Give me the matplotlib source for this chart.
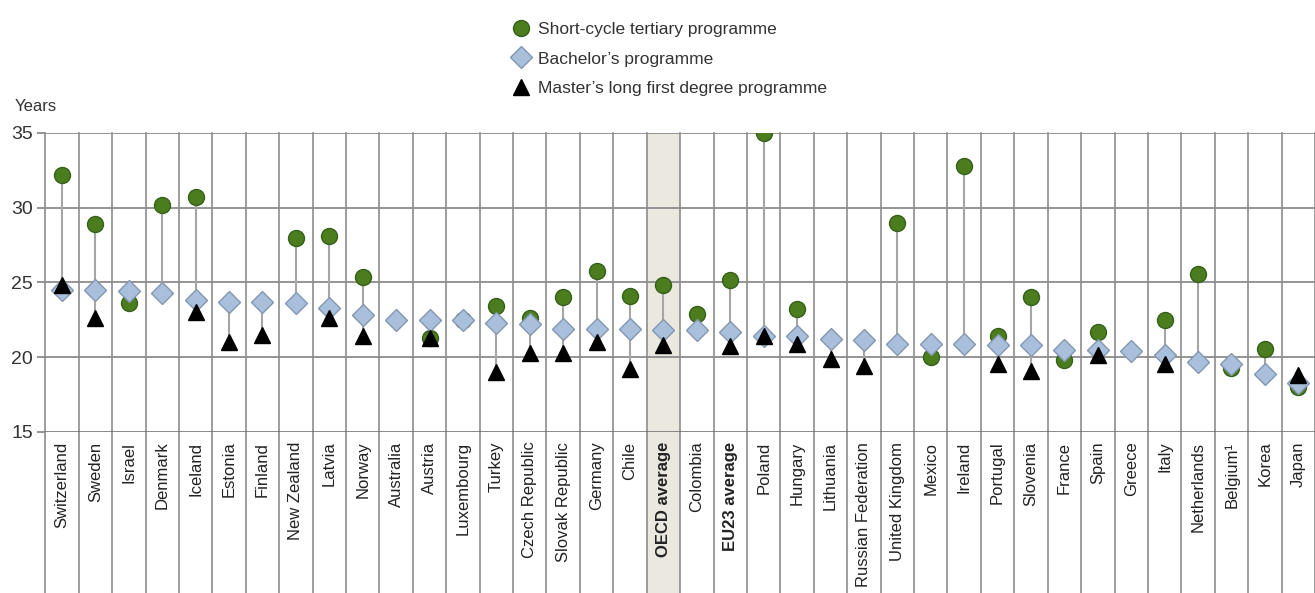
"""
Age of first-time graduates by tertiary level, OECD-style dot chart.
"""

import numpy as np
import matplotlib
matplotlib.use("Agg")
import matplotlib.pyplot as plt
from matplotlib.lines import Line2D

plt.rcParams["font.family"] = ["Liberation Sans", "DejaVu Sans"]

# ----------------------------------------------------------------------
# Data
# ----------------------------------------------------------------------
countries = [
    "Switzerland", "Sweden", "Israel", "Denmark", "Iceland", "Estonia",
    "Finland", "New Zealand", "Latvia", "Norway", "Australia", "Austria",
    "Luxembourg", "Turkey", "Czech Republic", "Slovak Republic", "Germany",
    "Chile", "OECD average", "Colombia", "EU23 average", "Poland", "Hungary",
    "Lithuania", "Russian Federation", "United Kingdom", "Mexico", "Ireland",
    "Portugal", "Slovenia", "France", "Spain", "Greece", "Italy",
    "Netherlands", "Belgium\u00b9", "Korea", "Japan",
]
nan = np.nan
short_cycle = [
    32.2, 28.9, 23.6, 30.2, 30.7, nan, nan, 28.0, 28.1, 25.4, nan, 21.3,
    22.5, 23.4, 22.65, 24.0, 25.8, 24.1, 24.8, 22.9, 25.2, 35.0, 23.2,
    nan, nan, 29.0, 20.0, 32.8, 21.4, 24.0, 19.8, 21.7, nan, 22.5,
    25.55, 19.3, 20.55, 18.0,
]
bachelor = [
    24.5, 24.5, 24.4, 24.3, 23.8, 23.7, 23.7, 23.65, 23.3, 22.8, 22.5, 22.5,
    22.5, 22.3, 22.2, 21.9, 21.9, 21.9, 21.8, 21.8, 21.7, 21.4, 21.4,
    21.25, 21.15, 20.9, 20.9, 20.9, 20.8, 20.8, 20.5, 20.5, 20.4, 20.15,
    19.7, 19.55, 18.9, 18.25,
]
master = [
    24.8, 22.65, nan, nan, 23.0, 21.0, 21.5, nan, 22.6, 21.4, nan, 21.3,
    nan, 19.0, 20.3, 20.3, 21.0, 19.2, 20.8, nan, 20.75, 21.4, 20.9,
    19.9, 19.4, nan, nan, nan, 19.55, 19.1, nan, 20.15, nan, 19.55,
    nan, nan, nan, 18.8,
]
highlight = ["OECD average", "EU23 average"]
yticks = [15, 20, 25, 30, 35]

GREEN = "#4b7d1e"
BLUE = "#a9c0dc"
GRID = "#8c8c8c"
TEXT = "#222222"


def main():
    W, H = 1315, 593
    fig = plt.figure(figsize=(W / 100, H / 100), dpi=100)
    left, right, top, bottom = 45.3, 1315, 133, 432
    ax = fig.add_axes([left / W, 1 - bottom / H, (right - left) / W, (bottom - top) / H])

    x = np.arange(len(countries))
    sc = np.array(short_cycle)
    ba = np.array(bachelor)
    ma = np.array(master)
    stack = np.vstack([sc, ba, ma])
    lo = np.nanmin(stack, axis=0)
    hi = np.nanmax(stack, axis=0)

    ax.set_xlim(-0.5, len(countries) - 0.5)
    ax.set_ylim(15, 35)
    below = -(H - bottom) / (bottom - top)

    # shaded OECD average column, running down into the label area
    i_oecd = countries.index("OECD average")
    ax.axvspan(i_oecd - 0.5, i_oecd + 0.5, ymin=below, ymax=1, clip_on=False,
               facecolor="#ebe8df", edgecolor="none", zorder=0)

    # column separators
    for b in np.arange(-0.5, len(countries), 1.0):
        ax.axvline(b, ymin=below, ymax=1, clip_on=False, color=GRID, lw=1.2, zorder=1)

    # horizontal grid
    for yv in yticks:
        ax.axhline(yv, color=GRID if yv != 15 else "#666666", lw=1.3 if yv != 15 else 1.8,
                   zorder=1)

    # min-max connectors
    ax.vlines(x, lo, hi, color="#a5a5a5", lw=1.5, zorder=2)

    ax.plot(x, sc, "o", ms=11.5, mfc=GREEN, mec="#35601a", mew=1, ls="none", zorder=3)
    ax.plot(x, ba, "D", ms=11.5, mfc=BLUE, mec="#8496b0", mew=1, ls="none", zorder=4)
    ax.plot(x, ma, "^", ms=11, mfc="black", mec="black", ls="none", zorder=5)

    for s in ax.spines.values():
        s.set_visible(False)

    ax.set_yticks(yticks)
    ax.tick_params(axis="y", length=6, width=1.3, color=GRID, pad=3,
                   labelsize=14, labelcolor="#333333")
    ax.set_xticks(x)
    ax.set_xticklabels(countries, rotation=90, va="top", ha="center")
    ax.tick_params(axis="x", length=0, pad=7, labelsize=12, labelcolor=TEXT)
    for lab in ax.get_xticklabels():
        if lab.get_text() in highlight:
            lab.set_fontweight("bold")

    fig.text(15 / W, 1 - 107 / H, "Years", fontsize=12, color="#333333",
             ha="left", va="center")

    handles = [
        Line2D([], [], marker="o", ms=11.5, mfc=GREEN, mec="#35601a", ls="none"),
        Line2D([], [], marker="D", ms=11.5, mfc=BLUE, mec="#8496b0", ls="none"),
        Line2D([], [], marker="^", ms=11, mfc="black", mec="black", ls="none"),
    ]
    labels = ["Short-cycle tertiary programme", "Bachelor\u2019s programme",
              "Master\u2019s long first degree programme"]
    fig.legend(handles, labels, loc="upper left", bbox_to_anchor=(514 / W, 1 - 22 / H),
               frameon=False, fontsize=12.5, handlelength=0.8, handletextpad=0.6,
               labelspacing=0.82, borderaxespad=0, borderpad=0,
               labelcolor="#333333")

    fig.savefig("out.png", dpi=100)


if __name__ == "__main__":
    main()
